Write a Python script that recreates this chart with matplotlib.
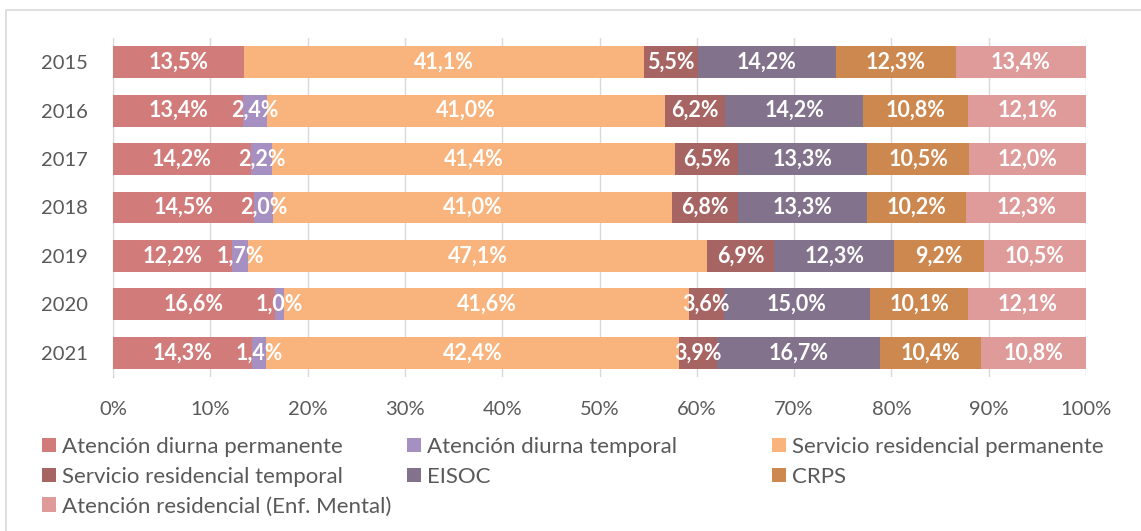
import matplotlib.pyplot as plt
import matplotlib.patches as patches
import numpy as np

plt.rcParams['font.family'] = ['Lato', 'DejaVu Sans']

years = ['2015', '2016', '2017', '2018', '2019', '2020', '2021']
series = [
    'Atención diurna permanente',
    'Atención diurna temporal',
    'Servicio residencial permanente',
    'Servicio residencial temporal',
    'EISOC',
    'CRPS',
    'Atención residencial (Enf. Mental)',
]
diurna_perm = [13.5, 13.4, 14.2, 14.5, 12.2, 16.6, 14.3]
diurna_temp = [0.0, 2.4, 2.2, 2.0, 1.7, 1.0, 1.4]
resid_perm = [41.1, 41.0, 41.4, 41.0, 47.1, 41.6, 42.4]
resid_temp = [5.5, 6.2, 6.5, 6.8, 6.9, 3.6, 3.9]
eisoc = [14.2, 14.2, 13.3, 13.3, 12.3, 15.0, 16.7]
crps = [12.3, 10.8, 10.5, 10.2, 9.2, 10.1, 10.4]
enf_mental = [13.4, 12.1, 12.0, 12.3, 10.5, 12.1, 10.8]

colors = ['#D17B7A', '#A690C2', '#F8B47C', '#A66463', '#82728C', '#CD884F', '#DE9B9A']

data = np.array([diurna_perm, diurna_temp, resid_perm, resid_temp, eisoc, crps, enf_mental])
# 100% stacked, like the spreadsheet does
shares = data / data.sum(axis=0)

W, H = 1141, 531
fig = plt.figure(figsize=(W / 100, H / 100), dpi=100)
ax = fig.add_axes([113 / W, 1 - 377 / H, (1086 - 113) / W, (377 - 38) / H])

y = np.arange(len(years))
left = np.zeros(len(years))
handles = []
for i, name in enumerate(series):
    bars = ax.barh(y, shares[i], left=left, height=0.66, color=colors[i], label=name, zorder=2)
    labels = [('%.1f%%' % v).replace('.', ',') if v > 0 else '' for v in data[i]]
    ax.bar_label(bars, labels=labels, label_type='center', color='white',
                 fontsize=15.5, fontweight='bold')
    handles.append(bars)
    left += shares[i]

ax.set_xlim(0, 1)
ax.set_ylim(len(years) - 0.5, -0.5)
ax.set_yticks(y)
ax.set_yticklabels(years)
ax.set_xticks(np.linspace(0, 1, 11))
ax.set_xticklabels(['%d%%' % v for v in range(0, 101, 10)])
ax.tick_params(axis='both', length=0, labelsize=14.5, colors='#595959')
ax.tick_params(axis='y', pad=18)
ax.tick_params(axis='x', pad=17)
ax.grid(axis='x', color='#D9D9D9', linewidth=1, zorder=0)
for s in ['top', 'right', 'bottom']:
    ax.spines[s].set_visible(False)
ax.spines['left'].set_color('#BFBFBF')
ax.spines['left'].set_zorder(1)

# legend laid out in three columns, filled row by row
cols = [[0, 3, 6], [1, 4], [2, 5]]
col_x = [42, 407, 772]
for idx, cx in zip(cols, col_x):
    fig.legend([handles[k] for k in idx], [series[k] for k in idx],
               loc='upper left', bbox_to_anchor=(cx / W, 1 - 437 / H),
               frameon=False, fontsize=16, handlelength=0.63, handleheight=0.63,
               handletextpad=0.27, labelspacing=0.44, borderaxespad=0, borderpad=0,
               labelcolor='#595959')

fig.patches.append(patches.Rectangle((6 / W, -0.1), 1.2, 1.1 - 10 / H, transform=fig.transFigure,
                                     fill=False, edgecolor='#D9D9D9', linewidth=1.2))

fig.savefig('out.png', dpi=100)
